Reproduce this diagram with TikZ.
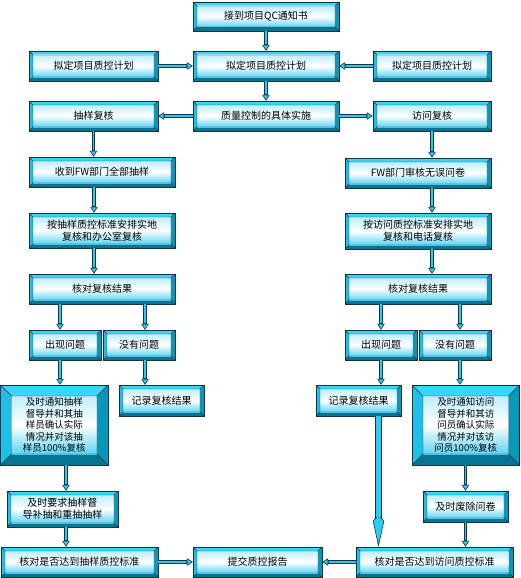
\documentclass[tikz,border=0pt]{standalone}
\usepackage{fontspec}
\setmainfont{Noto Sans CJK SC}
\usetikzlibrary{arrows.meta}
\definecolor{bvT}{RGB}{55,215,250}
\definecolor{bvL}{RGB}{30,192,232}
\definecolor{bvR}{RGB}{8,150,185}
\definecolor{bvB}{RGB}{4,118,148}
\definecolor{edgec}{RGB}{22,50,62}
\definecolor{fT}{RGB}{190,238,250}
\definecolor{fB}{RGB}{95,212,242}
\definecolor{arrc}{RGB}{40,205,245}
\tikzset{
  edge/.style={draw=edgec, line width=0.6pt},
  txt/.style={font=\fontsize{10}{12}\selectfont, text=black, align=center, inner sep=0pt},
  big/.style={font=\fontsize{9.5}{11.4}\selectfont},
  arr/.style={draw=edgec, line width=3.4pt,
    -{Triangle[length=6pt,width=7.5pt,fill=arrc,line width=0.6pt]},
    postaction={draw=arrc, line width=1.9pt, -, shorten >=6.5pt}},
  bigarr/.style={draw=edgec, line width=7pt,
    -{Kite[length=32pt,width=11.5pt,inset=6pt,fill=arrc,line width=0.6pt]},
    postaction={draw=arrc, line width=5pt, -, shorten >=30pt}},
}
\newcommand\bevbox[8][]{%
  \fill[bvT] (#3,#4) -- (#5,#4) -- (#5-#7,#4+#7) -- (#3+#7,#4+#7) -- cycle;
  \fill[bvL] (#3,#4) -- (#3+#7,#4+#7) -- (#3+#7,#6-#7) -- (#3,#6) -- cycle;
  \fill[bvR] (#5,#4) -- (#5,#6) -- (#5-#7,#6-#7) -- (#5-#7,#4+#7) -- cycle;
  \fill[bvB] (#3,#6) -- (#5,#6) -- (#5-#7,#6-#7) -- (#3+#7,#6-#7) -- cycle;
  \shade[top color=fT, bottom color=fB, middle color=white] (#3+#7,#4+#7) rectangle (#5-#7,#6-#7);
  \draw[edge] (#3,#4) rectangle (#5,#6);
  \draw[edge, line width=0.4pt] (#3+#7,#4+#7) rectangle (#5-#7,#6-#7)
     (#3,#4) -- (#3+#7,#4+#7) (#5,#4) -- (#5-#7,#4+#7)
     (#5,#6) -- (#5-#7,#6-#7) (#3,#6) -- (#3+#7,#6-#7);
  \node[txt, minimum width=#5-#3, minimum height=#6-#4, #1] (#2) at ({(#3+#5)/2},{(#4+#6)/2}) {#8};
}
\begin{document}
\begin{tikzpicture}[x=1pt,y=-1pt]
\useasboundingbox[fill=white] (0,0) rectangle (520,578);

\bevbox{n1}{193}{2}{339}{31}{4}{接到项目QC通知书}
\bevbox{pl}{29}{51}{158}{81}{4}{拟定项目质控计划}
\bevbox{pm}{193}{51}{339}{81}{4}{拟定项目质控计划}
\bevbox{pr}{373}{51}{491}{81}{4}{拟定项目质控计划}
\bevbox{cl}{29}{101}{158}{131}{4}{抽样复核}
\bevbox{cm}{193}{101}{339}{131}{4}{质量控制的具体实施}
\bevbox{cr}{373}{101}{491}{131}{4}{访问复核}
\bevbox{fl}{29}{157}{175}{187}{4}{收到FW部门全部抽样}
\bevbox{fr}{345}{158}{491}{188}{4}{FW部门审核无误问卷}
\bevbox{al}{29}{213}{175}{248}{4}{按抽样质控标准安排实地\\复核和办公室复核}
\bevbox{ar}{345}{213}{491}{249}{4}{按访问质控标准安排实地\\复核和电话复核}
\bevbox{kl}{29}{274}{175}{304}{4}{核对复核结果}
\bevbox{kr}{345}{274}{491}{304}{4}{核对复核结果}
\bevbox{ql}{29}{330}{101}{360}{4}{出现问题}
\bevbox{ol}{103}{330}{175}{360}{4}{没有问题}
\bevbox{qr}{345}{330}{417}{360}{4}{出现问题}
\bevbox{or}{419}{330}{491}{360}{4}{没有问题}
\bevbox[big]{bl}{0.5}{385}{108}{465}{11}{及时通知抽样\\督导并和其抽\\样员确认实际\\情况并对该抽\\样员100\%复核}
\bevbox{rl}{119}{385}{204}{416}{4}{记录复核结果}
\bevbox{rr}{316}{385}{401}{416}{4}{记录复核结果}
\bevbox[big]{br}{412}{385}{519.5}{465}{11}{及时通知访问\\督导并和其访\\问员确认实际\\情况并对该访\\问员100\%复核}
\bevbox{ql2}{7}{491}{118}{527}{4}{及时要求抽样督\\导补抽和重抽抽样}
\bevbox{dr}{423}{491}{508}{522}{4}{及时废除问卷}
\bevbox{zl}{1}{547}{158}{577}{4}{核对是否达到抽样质控标准}
\bevbox{zm}{193}{547}{322}{577}{4}{提交质控报告}
\bevbox{zr}{356}{547}{513}{577}{4}{核对是否达到访问质控标准}

\draw[arr] (n1.south) -- (pm.north);
\draw[arr] (pl.east) -- (pm.west);
\draw[arr] (pr.west) -- (pm.east);
\draw[arr] (pm.south) -- (cm.north);
\draw[arr] (cm.west) -- (cl.east);
\draw[arr] (cm.east) -- (cr.west);
\draw[arr] (cl.south) -- (cl.south |- fl.north);
\draw[arr] ([xshift=-8pt]fl.south) -- ([xshift=-8pt]al.north);
\draw[arr] ([xshift=-8pt]al.south) -- ([xshift=-8pt]kl.north);
\draw[arr] (cr.south) -- (cr.south |- fr.north);
\draw[arr] ([xshift=14pt]fr.south) -- ([xshift=14pt]ar.north);
\draw[arr] ([xshift=14pt]ar.south) -- ([xshift=14pt]kr.north);
\draw[arr] ([xshift=-5pt]ql.north |- kl.south) -- ([xshift=-5pt]ql.north);
\draw[arr] ([xshift=6pt]ol.north |- kl.south) -- ([xshift=6pt]ol.north);
\draw[arr] (qr.north |- kr.south) -- (qr.north);
\draw[arr] ([xshift=5pt]or.north |- kr.south) -- ([xshift=5pt]or.north);
\draw[arr] ([xshift=-5pt]ql.south) -- ([xshift=-5pt]ql.south |- bl.north);
\draw[arr] ([xshift=6pt]ol.south) -- ([xshift=6pt]ol.south |- rl.north);
\draw[arr] (qr.south) -- (qr.south |- rr.north);
\draw[arr] ([xshift=5pt]or.south) -- ([xshift=5pt]or.south |- br.north);
\draw[arr] ([xshift=3.5pt]ql2.north |- bl.south) -- ([xshift=3.5pt]ql2.north);
\draw[arr] ([xshift=3.5pt]ql2.south) -- ([xshift=3.5pt]ql2.south |- zl.north);
\draw[arr] (dr.north |- br.south) -- (dr.north);
\draw[arr] (dr.south) -- (dr.south |- zr.north);
\draw[bigarr] ([xshift=20pt]rr.south) -- ([xshift=20pt]rr.south |- zr.north);
\draw[arr] (zl.east) -- (zm.west);
\draw[arr] (zr.west) -- (zm.east);
\end{tikzpicture}
\end{document}
